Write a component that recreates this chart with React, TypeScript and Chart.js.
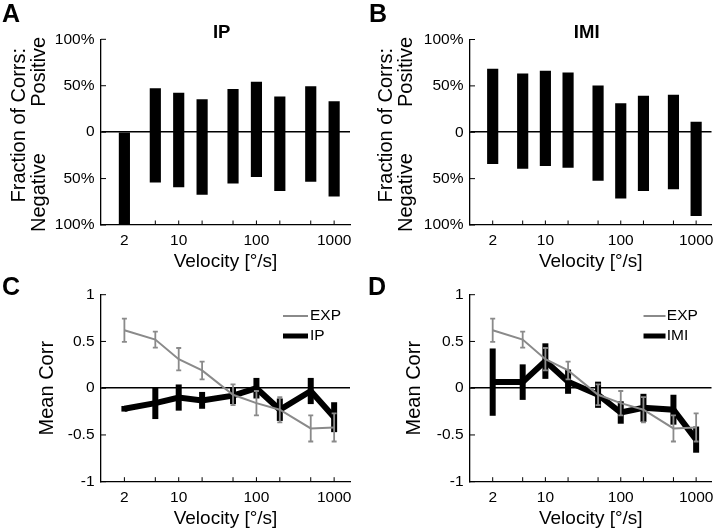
import React, { useEffect, useRef } from 'react';
import { Chart, registerables } from 'chart.js';

Chart.register(...registerables);

const W = 720;
const H = 531;
const FONT = "'Liberation Sans', Arial, Helvetica, sans-serif";
const GRAY = '#8a8a8a';

// ---------- data ----------
const VELOCITIES = [2, 5, 10, 20, 50, 100, 200, 500, 1000];
const X_TICK_LABELS = ['2', '', '10', '', '', '100', '', '', '1000'];
const X_MIN = 1;
const X_MAX = 1600;
const X_TITLE = 'Velocity [°/s]';

const FRACTION_TICKS = [-100, -50, 0, 50, 100];
const FRACTION_TICK_LABELS = ['100%', '50%', '0', '50%', '100%'];
const CORR_TICKS = [-1, -0.5, 0, 0.5, 1];
const CORR_TICK_LABELS = ['-1', '-0.5', '0', '0.5', '1'];

// Fraction of correlations (%), panel A (IP) and B (IMI)
const IP_POSITIVE = [0, 47, 42, 35, 46, 54, 38, 49, 33];
const IP_NEGATIVE = [100, 54, 59, 67, 55, 48, 63, 53, 69];
const IMI_POSITIVE = [68, 63, 66, 64, 50, 31, 39, 40, 11];
const IMI_NEGATIVE = [34, 39, 36, 38, 52, 71, 63, 61, 90];

// Mean correlation with error, panels C and D
const EXP_MEAN = [0.62, 0.52, 0.31, 0.19, -0.07, -0.16, -0.23, -0.43, -0.42];
const EXP_ERR = [0.125, 0.085, 0.12, 0.095, 0.11, 0.13, 0.135, 0.14, 0.15];
const IP_MEAN = [-0.22, -0.16, -0.1, -0.13, -0.08, 0.0, -0.23, -0.03, -0.31];
const IP_ERR = [0.03, 0.17, 0.14, 0.09, 0.09, 0.11, 0.12, 0.14, 0.16];
const IMI_MEAN = [0.065, 0.065, 0.29, 0.07, -0.07, -0.26, -0.21, -0.23, -0.55];
const IMI_ERR = [0.36, 0.19, 0.19, 0.13, 0.14, 0.12, 0.15, 0.16, 0.14];

// ---------- panel layout ----------
type YTitle = { text: string; dx: number; at: number };
interface PanelSpec {
  letter: string;
  letterX: number;
  letterY: number;
  kind: 'bar' | 'line';
  box: { left: number; right: number; top: number; bottom: number };
  title?: string;
  titleDx?: number;
  titleY?: number;
  yTitles: YTitle[];
  legend?: { x1: number; x2: number; textDx: number; ys: number[] };
  datasets: any[];
}

function barDataset(label: string, pos: number[], neg: number[]) {
  return {
    label,
    data: VELOCITIES.map((v, i) => ({ x: v, y: [-neg[i], pos[i]] })),
    backgroundColor: '#000',
    borderWidth: 0,
    barThickness: 10.5,
  };
}

function lineDataset(label: string, mean: number[], err: number[], color: string, width: number, errWidth: number, capHalf: number, legendWidth: number) {
  return {
    label,
    data: VELOCITIES.map((v, i) => ({ x: v, y: mean[i] })),
    borderColor: color,
    backgroundColor: color,
    borderWidth: width,
    pointRadius: 0,
    tension: 0,
    borderJoinStyle: 'miter',
    borderCapStyle: 'butt',
    fill: false,
    clip: false,
    errors: err,
    errorWidth: errWidth,
    capHalf,
    legendWidth,
  };
}

const PANELS: PanelSpec[] = [
  {
    letter: 'A', letterX: 2, letterY: 22, kind: 'bar',
    box: { left: 101, right: 350, top: 39.3, bottom: 225 },
    title: 'IP', titleDx: 120.7, titleY: 38.3,
    yTitles: [
      { text: 'Fraction of Corrs:', dx: -76, at: 7.5 },
      { text: 'Positive', dx: -56, at: 65 },
      { text: 'Negative', dx: -56, at: -65 },
    ],
    datasets: [barDataset('IP', IP_POSITIVE, IP_NEGATIVE)],
  },
  {
    letter: 'B', letterX: 369, letterY: 22, kind: 'bar',
    box: { left: 470, right: 718, top: 39.5, bottom: 225 },
    title: 'IMI', titleDx: 116.7, titleY: 38.3,
    yTitles: [
      { text: 'Fraction of Corrs:', dx: -78, at: 7.5 },
      { text: 'Positive', dx: -58, at: 65 },
      { text: 'Negative', dx: -58, at: -65 },
    ],
    datasets: [barDataset('IMI', IMI_POSITIVE, IMI_NEGATIVE)],
  },
  {
    letter: 'C', letterX: 2, letterY: 295, kind: 'line',
    box: { left: 101, right: 350, top: 294.7, bottom: 481.7 },
    yTitles: [{ text: 'Mean Corr', dx: -48, at: 0 }],
    legend: { x1: -67, x2: -42, textDx: -40, ys: [316, 336] },
    datasets: [
      lineDataset('EXP', EXP_MEAN, EXP_ERR, GRAY, 2, 1.8, 2.5, 2),
      lineDataset('IP', IP_MEAN, IP_ERR, '#000', 6, 6, 0, 5),
    ],
  },
  {
    letter: 'D', letterX: 368, letterY: 295, kind: 'line',
    box: { left: 470, right: 718, top: 294.7, bottom: 481.7 },
    yTitles: [{ text: 'Mean Corr', dx: -50, at: 0 }],
    legend: { x1: -68, x2: -46, textDx: -44.7, ys: [316, 336] },
    datasets: [
      lineDataset('EXP', EXP_MEAN, EXP_ERR, GRAY, 2, 1.8, 2.5, 2),
      lineDataset('IMI', IMI_MEAN, IMI_ERR, '#000', 6, 6, 0, 5),
    ],
  },
];

function makeDecor(spec: PanelSpec) {
  return {
    id: 'decor' + spec.letter,
    afterDatasetDraw(chart: any, args: any) {
      const ds = chart.data.datasets[args.index];
      if (!ds || !ds.errors) return;
      const ctx = chart.ctx;
      const xs = chart.scales.x;
      const ys = chart.scales.y;
      ctx.save();
      ctx.strokeStyle = ds.borderColor;
      ctx.lineWidth = ds.errorWidth;
      ctx.lineCap = 'butt';
      ds.data.forEach((pt: any, i: number) => {
        const px = xs.getPixelForValue(pt.x);
        const y1 = ys.getPixelForValue(pt.y + ds.errors[i]);
        const y2 = ys.getPixelForValue(pt.y - ds.errors[i]);
        ctx.beginPath();
        ctx.moveTo(px, y1);
        ctx.lineTo(px, y2);
        if (ds.capHalf > 0) {
          ctx.moveTo(px - ds.capHalf, y1);
          ctx.lineTo(px + ds.capHalf, y1);
          ctx.moveTo(px - ds.capHalf, y2);
          ctx.lineTo(px + ds.capHalf, y2);
        }
        ctx.stroke();
      });
      ctx.restore();
    },
    afterDraw(chart: any) {
      const ctx = chart.ctx;
      const xs = chart.scales.x;
      const ys = chart.scales.y;
      const area = chart.chartArea;
      ctx.save();
      // inward tick marks
      ctx.strokeStyle = '#000';
      ctx.lineWidth = 1;
      ctx.beginPath();
      xs.ticks.forEach((t: any) => {
        const px = xs.getPixelForValue(t.value);
        ctx.moveTo(px, area.bottom);
        ctx.lineTo(px, area.bottom - 4.5);
      });
      ys.ticks.forEach((t: any) => {
        const py = ys.getPixelForValue(t.value);
        ctx.moveTo(area.left, py);
        ctx.lineTo(area.left + 5, py);
      });
      ctx.stroke();

      ctx.fillStyle = '#000';
      ctx.textBaseline = 'alphabetic';
      // panel letter
      ctx.font = `bold 25px ${FONT}`;
      ctx.textAlign = 'left';
      ctx.fillText(spec.letter, spec.letterX, spec.letterY);
      // panel title
      if (spec.title) {
        ctx.font = `bold 18.5px ${FONT}`;
        ctx.textAlign = 'center';
        ctx.fillText(spec.title, area.left + (spec.titleDx || 0), spec.titleY || 0);
      }
      // x axis title
      ctx.font = `19px ${FONT}`;
      ctx.textAlign = 'center';
      ctx.fillText(X_TITLE, (area.left + area.right) / 2, area.bottom + 42);
      // y axis titles
      ctx.font = `20px ${FONT}`;
      spec.yTitles.forEach((t) => {
        ctx.save();
        ctx.translate(area.left + t.dx, ys.getPixelForValue(t.at));
        ctx.rotate(-Math.PI / 2);
        ctx.textAlign = 'center';
        ctx.fillText(t.text, 0, 0);
        ctx.restore();
      });
      // legend
      if (spec.legend) {
        const lg = spec.legend;
        ctx.font = `15.5px ${FONT}`;
        ctx.textAlign = 'left';
        ctx.textBaseline = 'middle';
        chart.data.datasets.forEach((ds: any, i: number) => {
          const y = lg.ys[i];
          ctx.strokeStyle = ds.borderColor;
          ctx.lineWidth = ds.legendWidth;
          ctx.lineCap = 'butt';
          ctx.beginPath();
          ctx.moveTo(area.right + lg.x1, y);
          ctx.lineTo(area.right + lg.x2, y);
          ctx.stroke();
          ctx.fillStyle = '#000';
          ctx.fillText(ds.label, area.right + lg.textDx, y);
        });
      }
      ctx.restore();
    },
  };
}

function makeConfig(spec: PanelSpec): any {
  const { box } = spec;
  const xAxisH = 30;
  const isBar = spec.kind === 'bar';
  const yTicks = isBar ? FRACTION_TICKS : CORR_TICKS;
  const yLabels = isBar ? FRACTION_TICK_LABELS : CORR_TICK_LABELS;
  const tickFont = { family: FONT, size: 15.5 };
  return {
    type: isBar ? 'bar' : 'line',
    data: { datasets: spec.datasets },
    options: {
      animation: false,
      responsive: false,
      devicePixelRatio: 1,
      events: [],
      layout: {
        padding: { left: 0, top: box.top, right: W - box.right, bottom: H - box.bottom - xAxisH },
      },
      plugins: {
        legend: { display: false },
        tooltip: { enabled: false },
        title: { display: false },
      },
      scales: {
        x: {
          type: 'logarithmic',
          min: X_MIN,
          max: X_MAX,
          bounds: 'data',
          offset: false,
          afterFit: (s: any) => { s.height = xAxisH; },
          afterBuildTicks: (s: any) => { s.ticks = VELOCITIES.map((v) => ({ value: v })); },
          ticks: {
            autoSkip: false, maxRotation: 0, minRotation: 0, padding: 6.5, color: '#000', font: tickFont,
            callback: (_v: any, i: number) => X_TICK_LABELS[i],
          },
          grid: { display: true, drawOnChartArea: false, drawTicks: false, offset: false },
          border: { display: true, color: '#000', width: 1.3 },
        },
        y: {
          type: 'linear',
          min: yTicks[0],
          max: yTicks[yTicks.length - 1],
          afterFit: (s: any) => { s.width = box.left; },
          afterBuildTicks: (s: any) => { s.ticks = yTicks.map((v) => ({ value: v })); },
          ticks: {
            autoSkip: false, padding: 6.5, color: '#000', font: tickFont,
            callback: (_v: any, i: number) => yLabels[i],
          },
          grid: {
            display: true, drawOnChartArea: true, drawTicks: false,
            color: (c: any) => (c.tick && c.tick.value === 0 ? '#000' : 'rgba(0,0,0,0)'),
            lineWidth: 1.6,
          },
          border: { display: true, color: '#000', width: 1.3 },
        },
      },
    },
    plugins: [makeDecor(spec)],
  };
}

function PanelChart({ spec }: { spec: PanelSpec }) {
  const ref = useRef<HTMLCanvasElement>(null);
  useEffect(() => {
    const chart = new Chart(ref.current as HTMLCanvasElement, makeConfig(spec));
    return () => chart.destroy();
  }, [spec]);
  return (
    <canvas
      ref={ref}
      width={W}
      height={H}
      style={{ position: 'absolute', left: 0, top: 0, width: W, height: H }}
    />
  );
}

export default function App() {
  return (
    <div style={{ position: 'absolute', left: 0, top: 0, width: W, height: H, background: '#fff', overflow: 'hidden' }}>
      {PANELS.map((p) => (
        <PanelChart key={p.letter} spec={p} />
      ))}
    </div>
  );
}
